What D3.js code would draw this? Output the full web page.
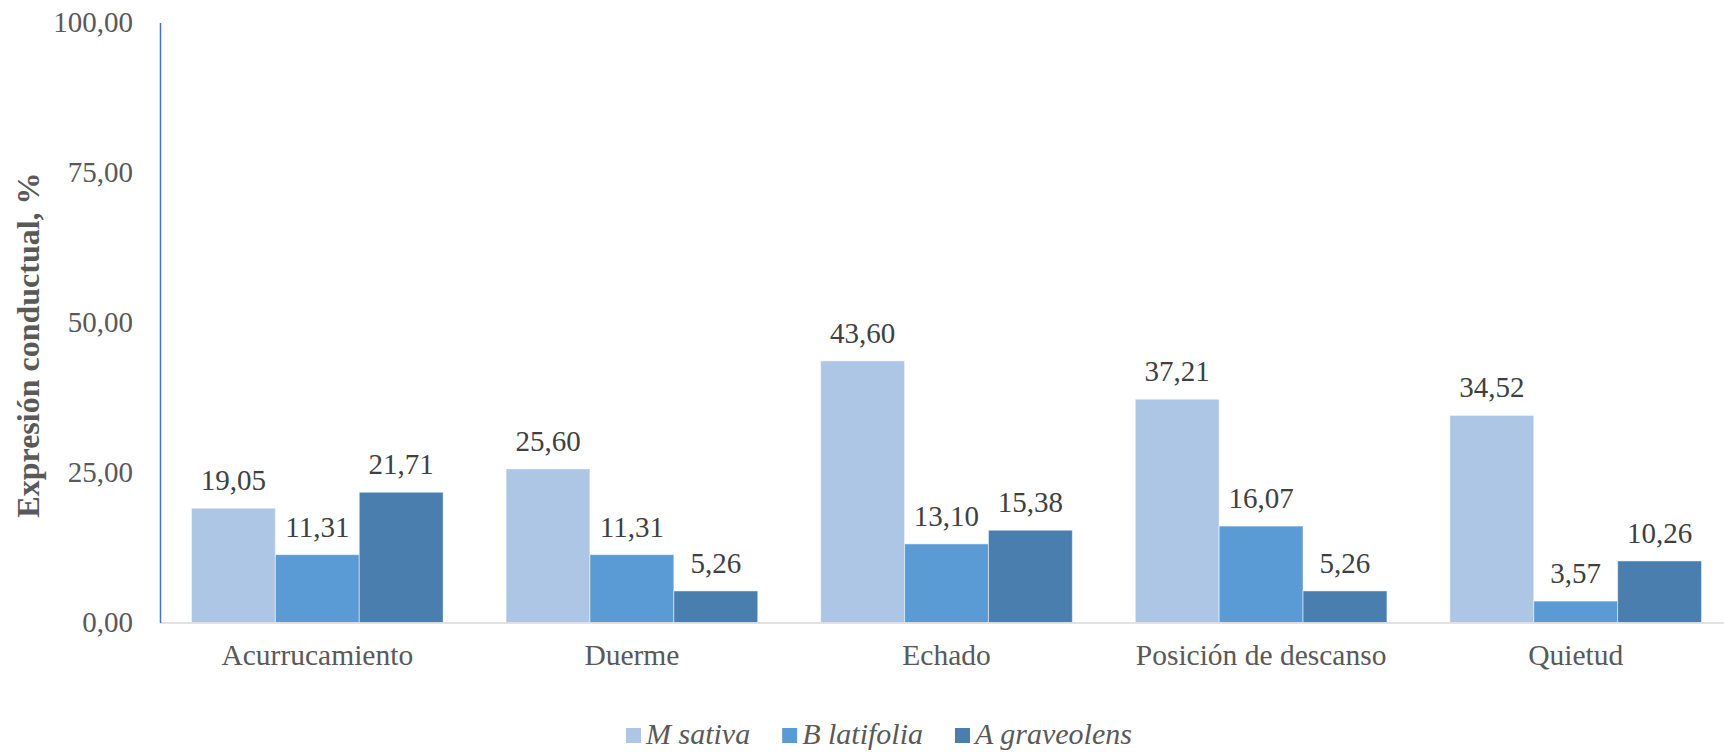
<!DOCTYPE html>
<html>
<head>
<meta charset="utf-8">
<script src="https://cdn.jsdelivr.net/npm/d3@7"></script>
<style>
  html, body { margin: 0; padding: 0; background: #fff; }
  svg { display: block; }
</style>
</head>
<body>
<svg id="chart" width="1724" height="753"></svg>
<script>
// Behaviour categories and the share (%) observed under each forage
const categories = ["Acurrucamiento", "Duerme", "Echado", "Posición de descanso", "Quietud"];
const seriesNames = ["M sativa", "B latifolia", "A graveolens"];
const mSativa    = [19.05, 25.60, 43.60, 37.21, 34.52];
const bLatifolia = [11.31, 11.31, 13.10, 16.07, 3.57];
const aGraveolens = [21.71, 5.26, 15.38, 5.26, 10.26];
const yTicks = [0, 25, 50, 75, 100];
const colors = ["#AEC6E6", "#5B9BD5", "#4A7EAE"];

const seriesValues = [mSativa, bLatifolia, aGraveolens];
const fmt = v => v.toFixed(2).replace(".", ",");
const SERIF = '"Liberation Serif", "Times New Roman", serif';

const svg = d3.select("#chart");
const plot = { left: 160, right: 1733, top: 22.5, bottom: 622.5 };

const x = d3.scaleBand().domain(categories).range([plot.left, plot.right]).paddingInner(0).paddingOuter(0);
const groupInset = 0.1;
const x1 = d3.scaleBand().domain(seriesNames)
  .range([x.bandwidth() * groupInset, x.bandwidth() * (1 - groupInset)]);
const y = d3.scaleLinear().domain([0, 100]).range([plot.bottom, plot.top]);

// bars
const groups = svg.append("g").selectAll("g")
  .data(categories)
  .join("g")
  .attr("transform", c => `translate(${x(c)},0)`);

groups.selectAll("rect")
  .data((c, i) => seriesNames.map((s, k) => ({ s, k, v: seriesValues[k][i] })))
  .join("rect")
  .attr("x", d => x1(d.s))
  .attr("width", x1.bandwidth())
  .attr("y", d => y(d.v))
  .attr("height", d => y(0) - y(d.v))
  .attr("fill", d => colors[d.k])
  .attr("stroke", "#ffffff")
  .attr("stroke-opacity", 0.5)
  .attr("stroke-width", 1);

// value labels
groups.selectAll("text.val")
  .data((c, i) => seriesNames.map((s, k) => ({ s, k, v: seriesValues[k][i] })))
  .join("text")
  .attr("class", "val")
  .attr("x", d => x1(d.s) + x1.bandwidth() / 2)
  .attr("y", d => y(d.v) - 18)
  .attr("text-anchor", "middle")
  .style("font-family", SERIF)
  .style("font-size", "29px")
  .attr("fill", "#404040")
  .text(d => fmt(d.v));

// x axis
svg.append("line")
  .attr("x1", plot.left).attr("x2", plot.right)
  .attr("y1", y(0) + 0.5).attr("y2", y(0) + 0.5)
  .attr("stroke", "#D9D9D9").attr("stroke-width", 1.5);

const xAxis = svg.append("g")
  .attr("transform", `translate(0,${plot.bottom})`)
  .call(d3.axisBottom(x).tickSize(0).tickPadding(0));
xAxis.select(".domain").remove();
xAxis.selectAll("text")
  .attr("y", 42.5)
  .attr("dy", 0)
  .style("font-family", SERIF)
  .style("font-size", "29.5px")
  .attr("fill", "#595959");

// y axis
const yAxis = svg.append("g")
  .attr("transform", `translate(${plot.left},0)`)
  .call(d3.axisLeft(y).tickValues(yTicks).tickFormat(fmt).tickSize(0).tickPadding(27));
yAxis.select(".domain").attr("stroke", "#4472C4").attr("stroke-width", 1.5);
yAxis.selectAll("text")
  .style("font-family", SERIF)
  .style("font-size", "29px")
  .attr("fill", "#595959");

// y title
svg.append("text")
  .attr("transform", "translate(39,345) rotate(-90)")
  .attr("text-anchor", "middle")
  .style("font-family", SERIF)
  .style("font-size", "32px")
  .style("font-weight", "bold")
  .attr("fill", "#595959")
  .text("Expresión conductual, %");

// legend: swatch + italic name, laid out left to right
const legend = svg.append("g").attr("transform", "translate(626,728)");
let cursor = 0;
seriesNames.forEach((name, i) => {
  const item = legend.append("g").attr("transform", `translate(${cursor},0)`);
  item.append("rect")
    .attr("width", 15).attr("height", 15)
    .attr("fill", colors[i]);
  const t = item.append("text")
    .attr("x", 20).attr("y", 16)
    .style("font-family", SERIF)
    .style("font-size", "30px")
    .style("font-style", "italic")
    .attr("fill", "#595959")
    .text(name);
  cursor += 20 + t.node().getComputedTextLength() + 32;
});
</script>
</body>
</html>
